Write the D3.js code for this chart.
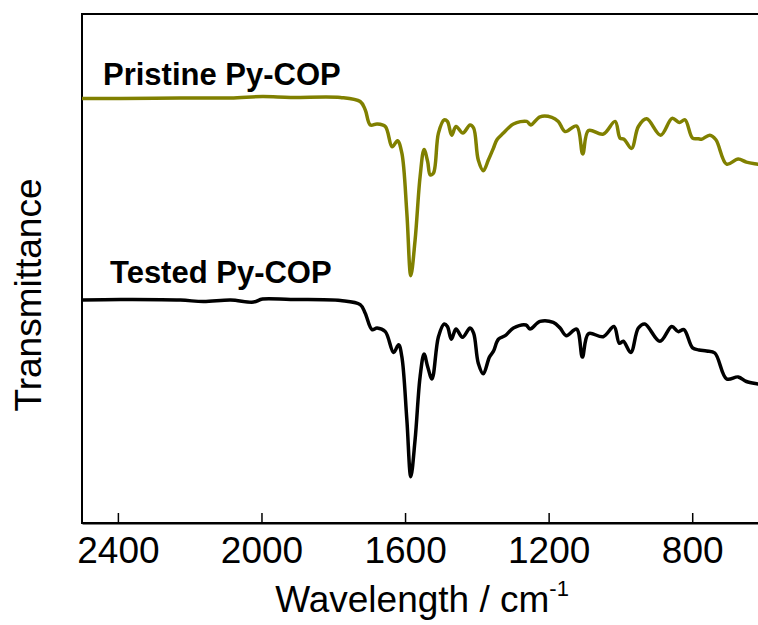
<!DOCTYPE html>
<html>
<head>
<meta charset="utf-8">
<script src="https://cdn.jsdelivr.net/npm/d3@7"></script>
<style>
  body { margin: 0; background: #fff; }
  svg { font-family: "Liberation Sans", Arial, sans-serif; }
</style>
</head>
<body>
<svg id="drawing_region"></svg>
<script>
// FT-IR spectra, [wavenumber (cm-1), transmittance (a.u.)]
const pristine = [
  [2500,83.4],[2392,83.4],[2226,83.5],[2086,83.5],[1997,83.8],[1919,83.6],[1780,83.6],
  [1725,82.8],[1711,81.2],[1697,78.2],[1678,78.4],[1655,77.9],[1636,73.9],[1621,75.1],
  [1609,72.7],[1595,60.9],[1584,48.6],[1572,55.6],[1558,68.1],[1547,73.4],[1537,71.0],
  [1530,68.4],[1521,68.7],[1507,76.6],[1491,79.2],[1482,78.9],[1470,76.2],[1458,77.9],
  [1439,76.6],[1419,78.2],[1409,77.6],[1396,71.3],[1382,69.2],[1368,71.3],[1354,73.6],
  [1344,75.3],[1326,76.6],[1298,78.4],[1261,78.9],[1250,78.2],[1224,79.8],[1191,79.7],
  [1173,78.9],[1154,76.9],[1122,78.0],[1105,72.5],[1089,77.1],[1048,76.4],[1015,78.9],
  [1001,75.6],[990,75.4],[969,73.6],[950,77.9],[927,79.4],[888,76.2],[856,79.5],
  [836,78.7],[820,79.2],[799,75.6],[783,75.5],[774,75.4],[751,76.2],[734,75.3],
  [704,70.5],[672,71.5],[649,70.9],[617,70.5],[600,70.3]
];

const tested = [
  [2500,43.8],[2392,43.9],[2226,43.8],[2162,43.5],[2086,43.8],[2022,43.4],[1997,44.0],
  [1919,43.9],[1780,43.7],[1725,42.9],[1711,41.2],[1692,38.0],[1678,38.3],[1655,37.6],
  [1632,33.5],[1618,35.0],[1609,32.7],[1595,20.3],[1584,9.1],[1572,16.4],[1558,28.8],
  [1547,33.2],[1537,30.7],[1525,28.3],[1507,36.6],[1491,39.1],[1482,38.6],[1471,36.1],
  [1458,38.1],[1440,36.5],[1419,38.3],[1409,37.3],[1396,31.4],[1382,29.3],[1365,32.6],
  [1354,33.7],[1340,36.1],[1321,36.8],[1298,38.3],[1263,38.9],[1252,38.1],[1224,39.6],
  [1187,39.4],[1168,38.3],[1151,36.8],[1122,38.1],[1106,32.6],[1089,37.2],[1048,36.6],
  [1018,38.6],[1003,35.3],[992,35.7],[971,33.5],[950,38.3],[932,39.1],[890,35.7],
  [857,38.6],[839,37.6],[823,38.0],[799,34.4],[781,34.0],[760,33.8],[737,33.4],
  [704,28.3],[672,28.7],[649,27.8],[617,27.3],[600,27.1]
];

const xTicks = [2400, 2000, 1600, 1200, 800];
const seriesNames = ["Pristine Py-COP", "Tested Py-COP"];
const seriesColors = ["#808000", "#000000"];

const width = 758, height = 625;
const margin = {top: 14, left: 82, right: -6, bottom: 102};

const svg = d3.select('#drawing_region')
    .attr('width', width)
    .attr('height', height);

const xscale = d3.scaleLinear()
    .domain([2500, 600])
    .range([margin.left, width - margin.right]);

const yscale = d3.scaleLinear()
    .domain([0, 100])
    .range([height - margin.bottom, margin.top]);

// frame
svg.append('rect')
    .attr('x', xscale(2500))
    .attr('y', yscale(100))
    .attr('width', xscale(600) - xscale(2500))
    .attr('height', yscale(0) - yscale(100))
    .attr('fill', 'none')
    .attr('stroke', '#000')
    .attr('stroke-width', 2);

const xaxis = d3.axisBottom(xscale)
    .tickValues(xTicks)
    .tickFormat(d3.format('d'))
    .tickSizeInner(-10)
    .tickSizeOuter(0)
    .tickPadding(14);

const xaxis_group = svg.append('g')
    .attr('transform', `translate(0, ${yscale(0)})`)
    .call(xaxis);

xaxis_group.select('.domain').attr('stroke-width', 2);
xaxis_group.selectAll('.tick line').attr('stroke-width', 1.5);
xaxis_group.selectAll('.tick text')
    .attr('font-size', '37px')
    .attr('font-family', '"Liberation Sans", Arial, sans-serif')
    .attr('fill', '#000');

const line = d3.line()
    .x(d => xscale(d[0]))
    .y(d => yscale(d[1]))
    .curve(d3.curveCatmullRom.alpha(0.5));

[pristine, tested].forEach((s, i) => {
    svg.append('path')
        .attr('d', line(s))
        .attr('fill', 'none')
        .attr('stroke', seriesColors[i])
        .attr('stroke-width', 3.5)
        .attr('stroke-linejoin', 'round');
});

// series labels
svg.append('text')
    .attr('x', 103).attr('y', 85)
    .attr('font-size', '31px').attr('font-weight', 'bold')
    .text(seriesNames[0]);

svg.append('text')
    .attr('x', 110).attr('y', 283)
    .attr('font-size', '31px').attr('font-weight', 'bold')
    .text(seriesNames[1]);

// axis titles
const xlabel = svg.append('text')
    .attr('x', 422).attr('y', 612)
    .attr('text-anchor', 'middle')
    .attr('font-size', '37px');
xlabel.append('tspan').text('Wavelength / cm');
xlabel.append('tspan').attr('dy', -16).attr('font-size', '22px').text('-1');

svg.append('text')
    .attr('transform', 'rotate(-90)')
    .attr('x', -295).attr('y', 41)
    .attr('text-anchor', 'middle')
    .attr('font-size', '37px')
    .text('Transmittance');
</script>
</body>
</html>
